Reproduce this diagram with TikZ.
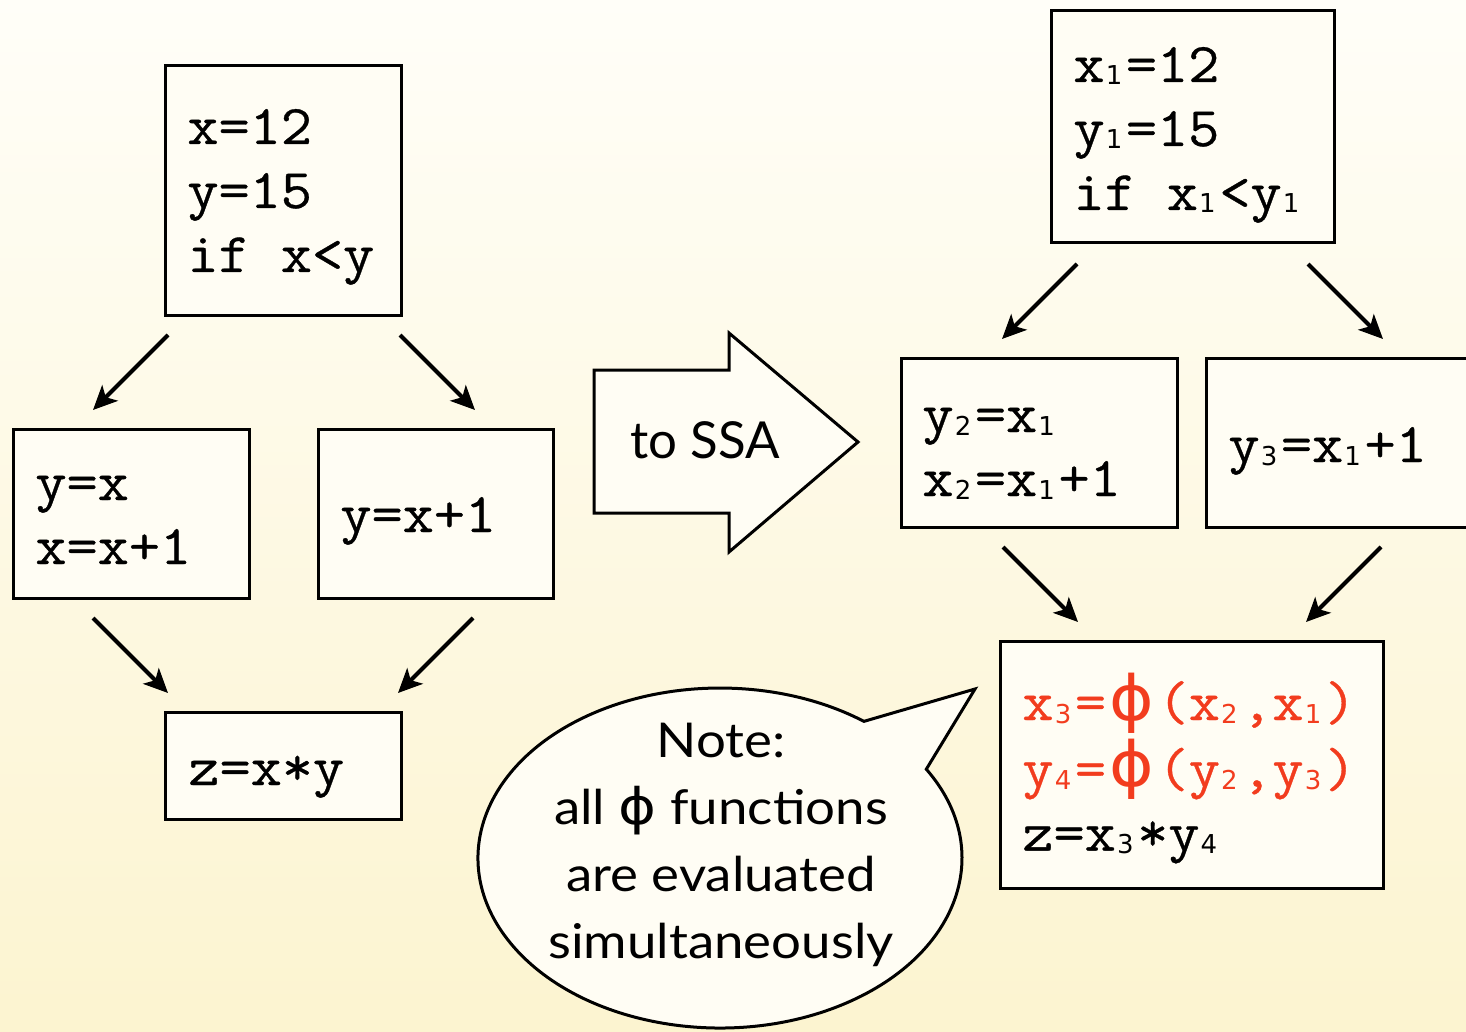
\documentclass[tikz,border=0pt]{standalone}
\usepackage{fontspec}
\usepackage{graphicx}
\usetikzlibrary{arrows.meta}
\setmainfont{Lato}
\newfontfamily\codefont{Latin Modern Mono}[FakeStretch=1.08,FakeBold=0.6]
\newfontfamily\subfont{DejaVu Sans}
\newfontfamily\notefont{Lato}[FakeStretch=1.1]
\newfontfamily\ssafont{Lato}
\newcommand\sbs[1]{\kern0.6pt\raisebox{-1.5pt}{\subfont\fontsize{13pt}{13pt}\selectfont #1}\kern1.8pt}
\newcommand\cphi{\kern1.5pt\scalebox{1.3}[1.2]{\subfont\fontsize{26pt}{26pt}\selectfont ϕ}\kern2pt}
\newcommand\nphi{\scalebox{1.2}[1.05]{\subfont ϕ}}
\definecolor{bgtop}{HTML}{FFFEF8}
\definecolor{bgbot}{HTML}{FCF4D0}
\definecolor{boxfill}{HTML}{FFFDF4}
\definecolor{ssared}{HTML}{F23C1E}
\tikzset{
  box/.style={draw=black, line width=1.5pt, fill=boxfill, inner sep=0pt, outer sep=0pt, anchor=north west},
  code/.style={font=\codefont\fontsize{28pt}{32pt}\selectfont, inner sep=0pt, anchor=base west},
  arr/.style={line width=2pt, -{Stealth[length=12pt,width=11pt,inset=3pt]}},
  note/.style={font=\notefont\fontsize{24pt}{33.5pt}\selectfont, inner sep=0pt, anchor=base}
}
\begin{document}
\begin{tikzpicture}[x=0.5pt, y=-0.5pt]
\useasboundingbox (0,0) rectangle (1466,1032);
\clip (0,0) rectangle (1466,1032);
\shade[top color=bgtop, bottom color=bgbot] (0,0) rectangle (1466,1032);
% left graph
\node[box, minimum width=118pt, minimum height=124.5pt] (b1) at (165,66) {};
\node[box, minimum width=118pt, minimum height=84.5pt] (b2) at (13,429) {};
\node[box, minimum width=117.5pt, minimum height=84.5pt] (b3) at (318,429) {};
\node[box, minimum width=118pt, minimum height=53.5pt] (b4) at (165,712) {};
\node[code] (t1) at (187,144) {\begin{tabular}[t]{@{}l@{}}x=12\\y=15\\if x<y\end{tabular}};
\node[code] (t2) at (35,500) {\begin{tabular}[t]{@{}l@{}}y=x\\x=x+1\end{tabular}};
\node[code] (t3) at (340,532) {y=x+1};
\node[code] (t4) at (188,785) {z=x*y};
\draw[arr] ([shift={(3,20)}]b1.south west) -- ([shift={(80,-19)}]b2.north west);
\draw[arr] ([shift={(-1,20)}]b1.south east) -- ([shift={(157,-19)}]b3.north west);
\draw[arr] ([shift={(80,20)}]b2.south west) -- ([shift={(3,-19)}]b4.north west);
\draw[arr] ([shift={(155,20)}]b3.south west) -- ([shift={(-3,-19)}]b4.north east);
% big arrow
\draw[line width=1.5pt, fill=boxfill, line join=miter] (594,370) -- (729,370) -- (729,333) -- (858,442) -- (729,552) -- (729,513) -- (594,513) -- cycle;
\node[note, font=\ssafont\fontsize{25.5pt}{30pt}\selectfont] (ssa) at (705,458) {to SSA};
% right graph
\node[box, minimum width=141.5pt, minimum height=116pt] (r1) at (1051,11) {};
\node[box, minimum width=138pt, minimum height=84.5pt] (r2) at (901,358) {};
\node[box, minimum width=150pt, minimum height=84.5pt] (r3) at (1206,358) {};
\node[box, minimum width=191.5pt, minimum height=123.5pt] (r4) at (1000,641) {};
\node[code] (u1) at (1073,82) {\begin{tabular}[t]{@{}l@{}}x\sbs{1}=12\\y\sbs{1}=15\\if x\sbs{1}<y\sbs{1}\end{tabular}};
\node[code] (u2) at (922,432) {\begin{tabular}[t]{@{}l@{}}y\sbs{2}=x\sbs{1}\\x\sbs{2}=x\sbs{1}+1\end{tabular}};
\node[code] (u3) at (1228,462) {y\sbs{3}=x\sbs{1}+1};
\node[code] (u4) at (1022,720) {\begin{tabular}[t]{@{}l@{}}\textcolor{ssared}{x\sbs{3}=\cphi(x\sbs{2},x\sbs{1})}\\\textcolor{ssared}{y\sbs{4}=\cphi(y\sbs{2},y\sbs{3})}\\z=x\sbs{3}*y\sbs{4}\end{tabular}};
\draw[arr] ([shift={(26,21)}]r1.south west) -- ([shift={(101,-19)}]r2.north west);
\draw[arr] ([shift={(-26,21)}]r1.south east) -- ([shift={(177,-19)}]r3.north west);
\draw[arr] ([shift={(102,20)}]r2.south west) -- ([shift={(78,-19)}]r4.north west);
\draw[arr] ([shift={(175,20)}]r3.south west) -- ([shift={(-77,-19)}]r4.north east);
% callout
\draw[line width=1.5pt, fill=boxfill, line join=miter] (926.3,769.2) arc[start angle=-31.5, end angle=306.5, x radius=242, y radius=170] -- (975,689) -- cycle;
\node[note] (nt) at (721,757) {\begin{tabular}[t]{@{}c@{}}Note:\\all \nphi\ functions\\are evaluated\\simultaneously\end{tabular}};
\end{tikzpicture}
\end{document}
